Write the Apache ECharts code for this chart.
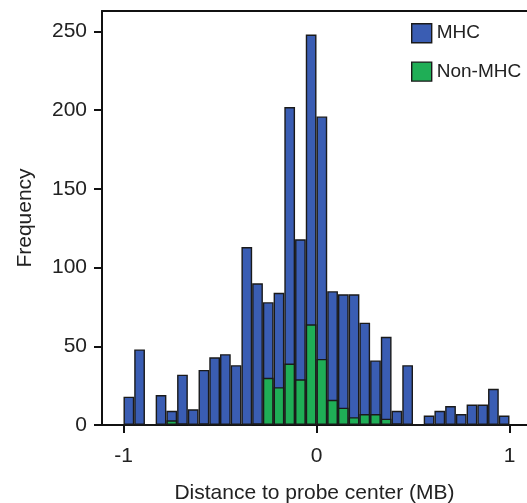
<!DOCTYPE html>
<html>
<head>
<meta charset="utf-8">
<script src="https://cdn.jsdelivr.net/npm/echarts@6/dist/echarts.min.js"></script>
<style>
html,body{margin:0;padding:0;background:#fff;}
#chart{width:527px;height:503px;}
</style>
</head>
<body>
<div id="chart"></div>
<script>
// Histogram bins: 36 bins of width 1/18 MB from -1 to 1
const binStart = -1;
const binWidth = 1 / 18;
// MHC frequency per bin
const mhcValues = [18, 48, 0, 19, 9, 32, 10, 35, 43, 45, 38, 113,
  90, 78, 84, 202, 118, 248, 196, 85, 83, 83, 65, 41,
  56, 9, 38, 0, 6, 9, 12, 7, 13, 13, 23, 6];
// Non-MHC frequency per bin
const nonMhcValues = [0, 0, 0, 0, 3, 1, 0, 1, 0, 0, 0, 0,
  1, 30, 24, 39, 29, 64, 42, 16, 11, 5, 7, 7,
  4, 1, 0, 0, 0, 0, 0, 0, 0, 0, 0, 0];
const xTicks = [-1, 0, 1];
const yTicks = [0, 50, 100, 150, 200, 250];
const seriesNames = ['MHC', 'Non-MHC'];

const binCenters = mhcValues.map((_, i) => binStart + (i + 0.5) * binWidth);

const FONT = 'Liberation Sans, Arial, Helvetica, sans-serif';
const chart = echarts.init(document.getElementById('chart'));
chart.setOption({
  backgroundColor: '#fff',
  animation: false,
  textStyle: { fontFamily: FONT, color: '#222' },
  legend: {
    data: seriesNames,
    orient: 'vertical',
    left: 411,
    top: 23,
    padding: 0,
    itemWidth: 20,
    itemHeight: 19,
    itemGap: 18,
    icon: 'rect',
    textStyle: { fontSize: 19, color: '#222', fontFamily: FONT },
    itemStyle: { borderColor: '#1a1a1a', borderWidth: 1.4 }
  },
  grid: { left: 102, right: 0, top: 11, bottom: 78, containLabel: false, outerBoundsMode: 'none' },
  xAxis: [{
    type: 'value',
    min: -1.1114,
    max: 1.0907,
    name: 'Distance to probe center (MB)',
    nameLocation: 'middle',
    nameGap: 58,
    nameTextStyle: { fontSize: 21, color: '#222', fontFamily: FONT },
    axisLine: { show: true, onZero: false, lineStyle: { color: '#111', width: 2 } },
    axisTick: { show: true, length: 8, customValues: xTicks, lineStyle: { color: '#111', width: 2 } },
    axisLabel: { customValues: xTicks, fontSize: 21, color: '#222', margin: 21, fontFamily: FONT },
    splitLine: { show: false }
  }, {
    type: 'value',
    position: 'top',
    min: -1.1114,
    max: 1.0907,
    axisLine: { show: true, onZero: false, lineStyle: { color: '#111', width: 2 } },
    axisTick: { show: false },
    axisLabel: { show: false },
    splitLine: { show: false }
  }],
  yAxis: {
    type: 'value',
    position: 'left',
    min: 0,
    max: 263,
    interval: 50,
    name: 'Frequency',
    nameLocation: 'middle',
    nameGap: 66,
    nameTextStyle: { fontSize: 21, color: '#222', fontFamily: FONT },
    axisLine: { show: true, onZero: false, lineStyle: { color: '#111', width: 2 } },
    axisTick: { show: true, length: 8, customValues: yTicks, lineStyle: { color: '#111', width: 2 } },
    axisLabel: { customValues: yTicks, fontSize: 21, color: '#222', margin: 15, fontFamily: FONT },
    splitLine: { show: false }
  },
  series: [{
    name: seriesNames[0],
    type: 'bar',
    xAxisIndex: 0,
    barWidth: '100%',
    barGap: '-100%',
    barCategoryGap: '0%',
    itemStyle: { color: '#3a5db3', borderColor: '#1a1a1a', borderWidth: 1.4 },
    data: binCenters.map((c, i) => [c, mhcValues[i]])
  }, {
    name: seriesNames[1],
    type: 'bar',
    xAxisIndex: 0,
    barWidth: '100%',
    barGap: '-100%',
    barCategoryGap: '0%',
    itemStyle: { color: '#1fae56', borderColor: '#1a1a1a', borderWidth: 1.4 },
    data: binCenters.map((c, i) => [c, nonMhcValues[i]])
  }]
});
</script>
</body>
</html>
